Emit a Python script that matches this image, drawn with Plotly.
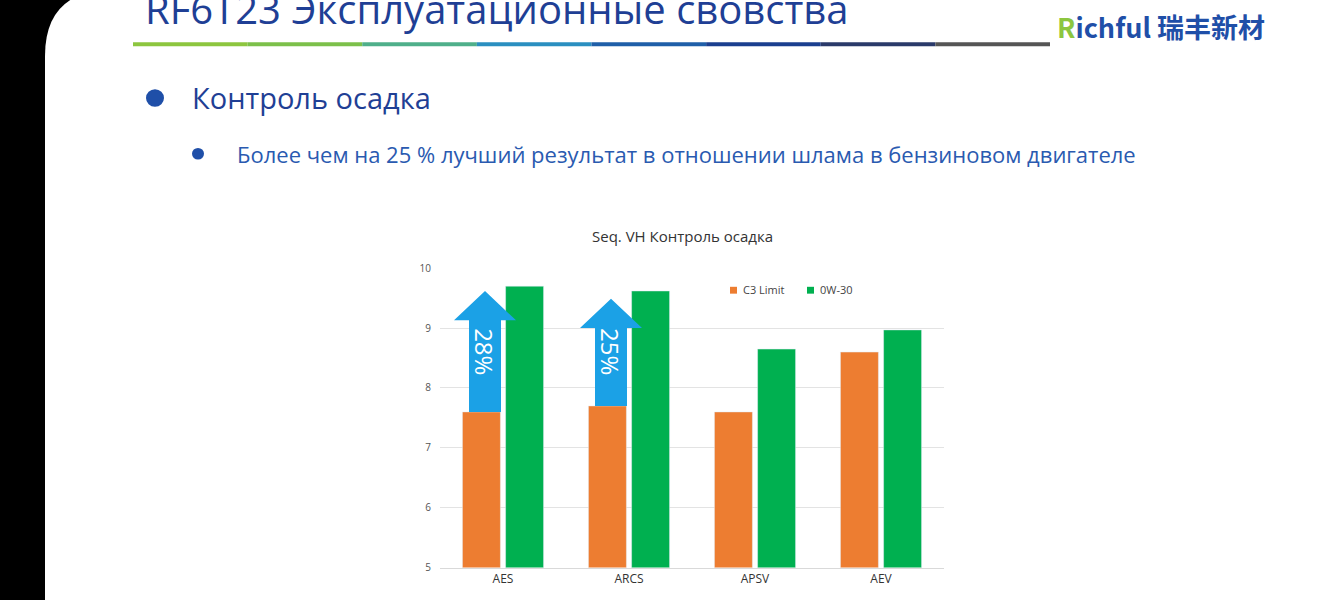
import plotly.graph_objects as go

categories = ["AES", "ARCS", "APSV", "AEV"]
c3_limit = [7.6, 7.7, 7.6, 8.6]
ow30 = [9.7, 9.62, 8.65, 8.97]
# arrows: (category index, tip value, label)
arrow_cats = [0, 1]
arrow_tips = [9.62, 9.49]
arrow_labels = ["28%", "25%"]

W, H = 1334, 600
X0, X1 = 440 / W, 944 / W
Y0, Y1 = 1 - 573 / H, 1 - 267 / H
ORANGE, GREEN, BLUE = "#ED7D31", "#00B050", "#1BA1E6"

fig = go.Figure()
fig.add_trace(go.Bar(x=categories, y=c3_limit, name="C3 Limit", marker_color=ORANGE))
fig.add_trace(go.Bar(x=categories, y=ow30, name="0W-30", marker_color=GREEN))

shapes = [
    # slide background with rounded corner on black
    dict(type="path", xref="paper", yref="paper",
         path=f"M {45/W} -0.05 L {45/W} {1-50/H} Q {45/W} 1.03 {115/W} 1.03 L 1.05 1.03 L 1.05 -0.05 Z",
         fillcolor="white", line_width=0, layer="below"),
]
# gradient underline under slide title
grad = ["#8DC63F", "#7CC04A", "#4FAF8A", "#2A8FC0", "#1F5FA8", "#1B3F8F", "#2A3A6A", "#555555"]
seg = (1050 - 133) / len(grad)
for i, c in enumerate(grad):
    shapes.append(dict(type="rect", xref="paper", yref="paper",
                       x0=(133 + i * seg) / W, x1=(133 + (i + 1) * seg) / W,
                       y0=1 - 40 / H, y1=1 - 36 / H, fillcolor=c, line_width=0))
# bullets
shapes.append(dict(type="circle", xref="paper", yref="paper", x0=146 / W, x1=164 / W,
                   y0=1 - 102 / H, y1=1 - 84 / H, fillcolor="#1F4FA8", line_width=0))
shapes.append(dict(type="circle", xref="paper", yref="paper", x0=192 / W, x1=204 / W,
                   y0=1 - 156 / H, y1=1 - 144 / H, fillcolor="#1F4FA8", line_width=0))
# legend squares
shapes.append(dict(type="rect", xref="paper", yref="paper", x0=730 / W, x1=737 / W,
                   y0=1 - 293 / H, y1=1 - 286 / H, fillcolor=ORANGE, line_width=0))
shapes.append(dict(type="rect", xref="paper", yref="paper", x0=807 / W, x1=814 / W,
                   y0=1 - 293 / H, y1=1 - 286 / H, fillcolor=GREEN, line_width=0))

annotations = [
    dict(text="RF6T23 Эксплуатационные свовства", x=143 / W, y=1 - 2 / H, xref="paper", yref="paper",
         xanchor="left", yanchor="middle", showarrow=False,
         font=dict(size=40, color="#1F3F95", family="Open Sans")),
    dict(text="<b><span style='color:#8DC63F'>R</span>ichful</b> <b>瑞丰新材</b>", x=1055 / W, y=1 - 20 / H,
         xref="paper", yref="paper", xanchor="left", yanchor="middle", showarrow=False,
         font=dict(size=27, color="#1F4FA8", family="Noto Sans CJK SC")),
    dict(text="Контроль осадка", x=190 / W, y=1 - 93 / H, xref="paper", yref="paper",
         xanchor="left", yanchor="middle", showarrow=False,
         font=dict(size=29, color="#1F3F95", family="Open Sans")),
    dict(text="Более чем на 25 % лучший результат в отношении шлама в бензиновом двигателе",
         x=235 / W, y=1 - 150 / H, xref="paper", yref="paper", xanchor="left", yanchor="middle",
         showarrow=False, font=dict(size=22, color="#2A5AB0", family="Open Sans")),
    dict(text="Seq. VH Контроль осадка", x=682 / W, y=1 - 234 / H, xref="paper", yref="paper",
         showarrow=False, font=dict(size=15, color="#333333", family="Open Sans")),
    dict(text="C3 Limit", x=741 / W, y=1 - 289 / H, xref="paper", yref="paper", xanchor="left",
         showarrow=False, font=dict(size=11, color="#444444", family="Open Sans")),
    dict(text="0W-30", x=818 / W, y=1 - 289 / H, xref="paper", yref="paper", xanchor="left",
         showarrow=False, font=dict(size=11, color="#444444", family="Open Sans")),
]

# arrows over orange bars
cw = (X1 - X0) / len(categories)
for ci, tip, lab in zip(arrow_cats, arrow_tips, arrow_labels):
    base = c3_limit[ci]
    cx = X0 + cw * (ci + 0.5) - 18 / W
    shaft, head = 16 / W, 31 / W
    hb = tip - 0.49
    path = (f"M {cx-shaft} {base} L {cx-shaft} {hb} L {cx-head} {hb} L {cx} {tip} "
            f"L {cx+head} {hb} L {cx+shaft} {hb} L {cx+shaft} {base} Z")
    shapes.append(dict(type="path", xref="paper", yref="y", path=path,
                       fillcolor=BLUE, line_width=0))
    annotations.append(dict(text=lab, x=cx, y=(base + hb) / 2 + 0.25, xref="paper", yref="y",
                            showarrow=False, textangle=90,
                            font=dict(size=24, color="white", family="Open Sans")))

fig.update_layout(
    width=W, height=H, margin=dict(l=0, r=0, t=0, b=0),
    paper_bgcolor="black", plot_bgcolor="white",
    barmode="group", bargap=0.315, bargroupgap=0.12, showlegend=False,
    shapes=shapes, annotations=annotations,
    font=dict(family="Open Sans", color="#444444"),
)
fig.update_xaxes(domain=[X0, X1], showline=True, linecolor="#D9D9D9",
                 tickfont=dict(size=12, color="#333333"))
fig.update_yaxes(domain=[Y0, Y1], range=[5, 10], dtick=1, gridcolor="#E3E3E3",
                 zeroline=False, tickfont=dict(size=10, color="#555555"), ticklabelstandoff=8)
fig.write_html("out.html", config={"displayModeBar": False},
               post_script="document.body.style.margin='0';document.body.style.overflow='hidden';")
